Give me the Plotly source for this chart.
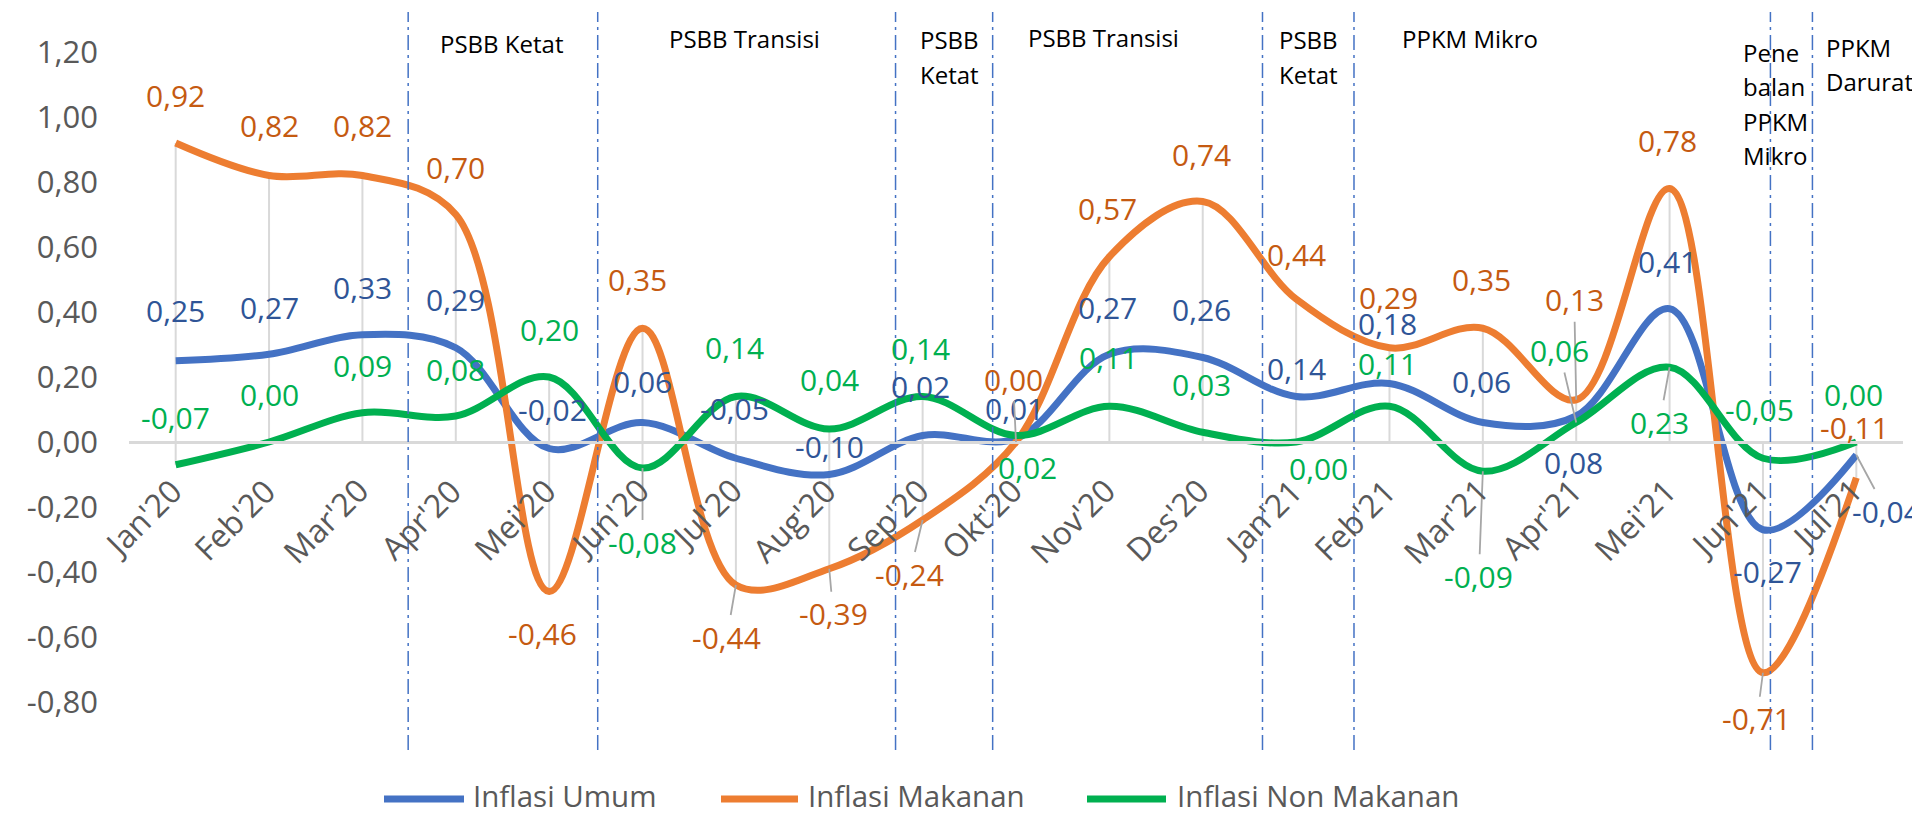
import plotly.graph_objects as go

# ---------------- data ----------------
months = ["Jan'20", "Feb'20", "Mar'20", "Apr'20", "Mei'20", "Jun'20", "Jul'20", "Aug'20",
          "Sep'20", "Okt'20", "Nov'20", "Des'20", "Jan'21", "Feb'21", "Mar'21", "Apr'21",
          "Mei'21", "Jun'21", "Jul'21"]
inflasi_umum = [0.25, 0.27, 0.33, 0.29, -0.02, 0.06, -0.05, -0.10, 0.02, 0.01, 0.27, 0.26,
                0.14, 0.18, 0.06, 0.08, 0.41, -0.27, -0.04]
inflasi_makanan = [0.92, 0.82, 0.82, 0.70, -0.46, 0.35, -0.44, -0.39, -0.24, 0.00, 0.57, 0.74,
                   0.44, 0.29, 0.35, 0.13, 0.78, -0.71, -0.11]
inflasi_non_makanan = [-0.07, 0.00, 0.09, 0.08, 0.20, -0.08, 0.14, 0.04, 0.14, 0.02, 0.11, 0.03,
                       0.00, 0.11, -0.09, 0.06, 0.23, -0.05, 0.00]
y_tick_vals = [-0.8, -0.6, -0.4, -0.2, 0.0, 0.2, 0.4, 0.6, 0.8, 1.0, 1.2]
y_tick_text = ["-0,80", "-0,60", "-0,40", "-0,20", "0,00", "0,20", "0,40", "0,60", "0,80", "1,00", "1,20"]

# policy periods: boundaries (in month-index units) and labels
phase_bounds = [2.49, 4.52, 7.71, 8.75, 11.64, 12.62, 17.08, 17.53]
phase_labels = ["PSBB Ketat", "PSBB Transisi", "PSBB<br>Ketat", "PSBB Transisi", "PSBB<br>Ketat",
                "PPKM Mikro", "Pene<br>balan<br>PPKM<br>Mikro", "PPKM<br>Darurat"]

# ---------------- styling ----------------
FONT = "Open Sans"
PAGE_OFF = 8                      # default body margin of the html page
PX0, PX1, PY0, PY1 = 129, 1903, 52, 702   # plot area in page pixels
W, H = 1920 - PAGE_OFF, 815 - PAGE_OFF
L, T = PX0 - PAGE_OFF, PY0 - PAGE_OFF
R, B = W - (PX1 - PAGE_OFF), H - (PY1 - PAGE_OFF)
x_idx = list(range(len(months)))

def px_x(p):
    return (p - PX0) / (PX1 - PX0)

def px_y(p):
    return (PY1 - p) / (PY1 - PY0)

def fmt(v):
    return f"{v:.2f}".replace(".", ",")

series = [
    ("Inflasi Umum", inflasi_umum, "#4472C4", "#2F5597"),
    ("Inflasi Makanan", inflasi_makanan, "#ED7D31", "#C55A11"),
    ("Inflasi Non Makanan", inflasi_non_makanan, "#00B050", "#00B050"),
]

# label offsets (pixels, +down) and leader-line flags
label_style = {
    "Inflasi Umum": [(0, -50), (0, -47), (0, -47), (0, -48), (3, -39), (0, -41), (-1, -50), (0, -28),
                     (-2, -49), (-2, -30), (-2, -47), (-1, -48), (0, -28), (-2, -60), (-1, -41),
                     (-3, 46), (-2, -47), (5, 42), (30, 56)],
    "Inflasi Makanan": [(0, -48), (0, -50), (0, -50), (0, -47), (-7, 42), (-5, -49), (-9, 52), (4, 45),
                        (-13, 54), (-3, -63), (-2, -48), (-1, -47), (0, -45), (-1, -50), (-1, -49),
                        (-2, -100), (-2, -48), (-6, 46), (-2, -50)],
    "Inflasi Non Makanan": [(0, -47), (0, -48), (0, -47), (0, -47), (0, -48), (0, 74), (-1, -49), (0, -50),
                            (-2, -48), (11, 32), (-1, -49), (-1, -48), (22, 26), (-2, -43), (-4, 105),
                            (-17, -72), (-10, 55), (-3, -49), (-3, -48)],
}
leaders = {
    "Inflasi Umum": {18},
    "Inflasi Makanan": {6, 7, 8, 9, 15, 17},
    "Inflasi Non Makanan": {5, 14, 15, 16},
}

fig = go.Figure()

# drop lines (from zero to extreme values at each month)
dx, dy = [], []
for i in x_idx:
    vals = [inflasi_umum[i], inflasi_makanan[i], inflasi_non_makanan[i]]
    dx += [i, i, None]
    dy += [max(0, max(vals)), min(0, min(vals)), None]
fig.add_trace(go.Scatter(x=dx, y=dy, mode="lines", line=dict(color="#D9D9D9", width=2),
                         showlegend=False, hoverinfo="skip"))

for name, vals, col, _ in series:
    fig.add_trace(go.Scatter(x=x_idx, y=vals, mode="lines", name=name,
                             line=dict(color=col, width=7, shape="spline", smoothing=1.0),
                             showlegend=False))

annotations = []
for name, vals, _, lcol in series:
    for i, v in enumerate(vals):
        ox, oy = label_style[name][i]
        a = dict(x=i, y=v, xref="x", yref="y", text=fmt(v),
                 font=dict(family=FONT, size=30, color=lcol))
        if i in leaders[name]:
            a.update(showarrow=True, ax=ox, ay=oy, axref="pixel", ayref="pixel",
                     arrowhead=0, arrowwidth=1.8, arrowcolor="#A6A6A6", standoff=0, startstandoff=0)
        else:
            a.update(showarrow=False, xshift=ox, yshift=-oy)
        annotations.append(a)

# category labels along the zero line, rotated -45 degrees
for i, m in enumerate(months):
    annotations.append(dict(x=i, y=0, xref="x", yref="y", text=m, textangle=-45,
                            showarrow=False, xanchor="right", yanchor="top",
                            xshift=17.5, yshift=-24.5,
                            font=dict(family=FONT, size=32, color="#595959")))

# phase separators
shapes = []
for b in phase_bounds:
    shapes.append(dict(type="line", xref="x", yref="paper", x0=b, x1=b,
                       y0=px_y(750), y1=px_y(12),
                       line=dict(color="#4472C4", width=1.5, dash="15px,5px,3px,5px")))

# phase labels: (label index, anchor page-px x, xanchor, first-line centre page-px y)
phase_pos = [(0, 501, "center", 44), (1, 744, "center", 38), (2, 918, "left", 40),
             (3, 1103, "center", 37), (4, 1277, "left", 40), (5, 1470, "center", 39),
             (6, 1741, "left", 52), (7, 1824, "left", 47)]
for k, xp, xa, yp in phase_pos:
    for j, line in enumerate(phase_labels[k].split("<br>")):
        annotations.append(dict(x=px_x(xp), y=px_y(yp + 34.5 * j), xref="paper", yref="paper",
                                text=line, showarrow=False, xanchor=xa, yanchor="middle",
                                font=dict(family=FONT, size=24, color="#000000")))

# manual legend (page pixels)
legend_pos = [(384, 464, 471), (721, 798, 806), (1087, 1166, 1175)]
for (name, _, col, _), (x0, x1, xt) in zip(series, legend_pos):
    shapes.append(dict(type="line", xref="paper", yref="paper", x0=px_x(x0), x1=px_x(x1),
                       y0=px_y(799), y1=px_y(799), line=dict(color=col, width=7)))
    annotations.append(dict(x=px_x(xt), y=px_y(795), xref="paper", yref="paper", text=name,
                            showarrow=False, xanchor="left", yanchor="middle",
                            font=dict(family=FONT, size=29.5, color="#595959")))

fig.update_layout(
    width=W, height=H,
    margin=dict(l=L, r=R, t=T, b=B, pad=0),
    paper_bgcolor="white", plot_bgcolor="white",
    showlegend=False,
    shapes=shapes, annotations=annotations,
    xaxis=dict(range=[-0.5, 18.5], tickvals=x_idx, ticktext=months, showticklabels=False,
               anchor="free", position=px_y(442), showline=True, linecolor="#D9D9D9",
               linewidth=2.5, showgrid=False, zeroline=False, ticks=""),
    yaxis=dict(range=[-0.8, 1.2], tickvals=y_tick_vals, ticktext=y_tick_text,
               showgrid=False, zeroline=False, showline=False, ticks="",
               ticklabelstandoff=30,
               tickfont=dict(family=FONT, size=31, color="#595959")),
)

fig.write_html("out.html")
